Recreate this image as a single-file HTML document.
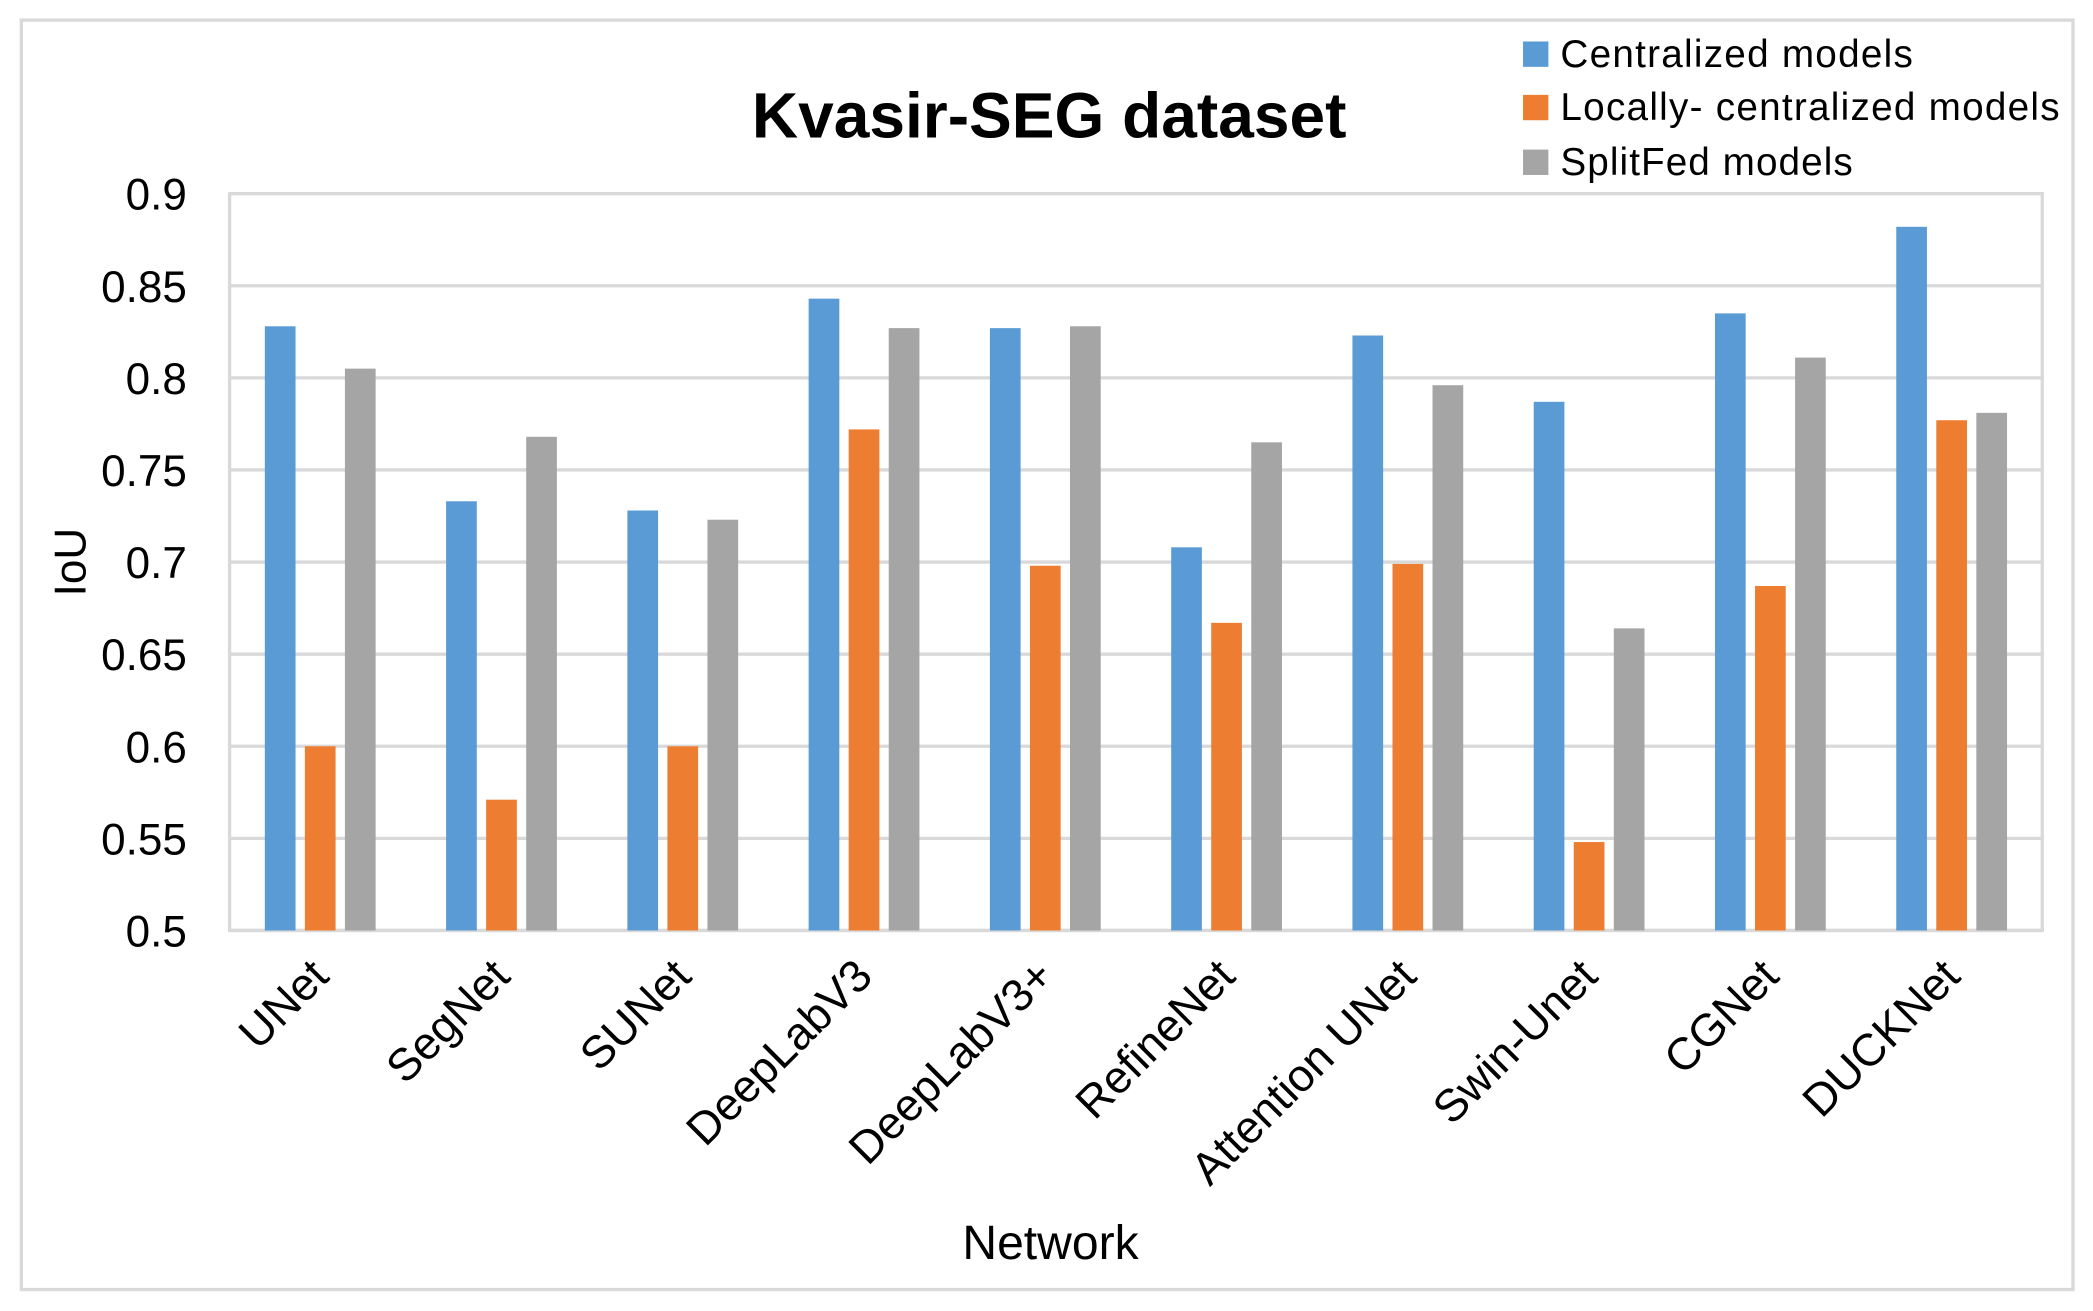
<!DOCTYPE html>
<html><head><meta charset="utf-8"><style>
html,body{margin:0;padding:0;background:#fff;}
svg{display:block;font-family:"Liberation Sans","DejaVu Sans",sans-serif;}
</style></head><body>
<svg id="chart" width="2093" height="1311" viewBox="0 0 1568 982" xmlns="http://www.w3.org/2000/svg">
<rect x="16" y="15" width="1537" height="951" fill="#fff" stroke="#d9d9d9" stroke-width="2.5"/>
<text x="786" y="103" text-anchor="middle" font-size="48" font-weight="bold" fill="#000">Kvasir-SEG dataset</text>
<g id="grid"></g>
<g id="bars"></g>
<g id="yticks"></g>
<g id="xticks"></g>
<text transform="translate(64,421) rotate(-90)" text-anchor="middle" font-size="33" fill="#000">IoU</text>
<text x="787" y="943" text-anchor="middle" font-size="36" fill="#000">Network</text>
<g>
 <g><rect x="1141" y="31" width="19" height="19" fill="#5b9bd5"/><text x="1169" y="50" font-size="29" textLength="264">Centralized models</text></g>
 <g><rect x="1141" y="71" width="19" height="19" fill="#ed7d31"/><text x="1169" y="90" font-size="29" textLength="374">Locally- centralized models</text></g>
 <g><rect x="1141" y="112" width="19" height="19" fill="#a5a5a5"/><text x="1169" y="131" font-size="29" textLength="219">SplitFed models</text></g>
</g>
</svg>
<script>
const categories = ["UNet","SegNet","SUNet","DeepLabV3","DeepLabV3+","RefineNet","Attention UNet","Swin-Unet","CGNet","DUCKNet"];
const centralized = [0.828,0.733,0.728,0.843,0.827,0.708,0.823,0.787,0.835,0.882];
const locallyCentralized = [0.600,0.571,0.600,0.772,0.698,0.667,0.699,0.548,0.687,0.777];
const splitFed = [0.805,0.768,0.723,0.827,0.828,0.765,0.796,0.664,0.811,0.781];
const yTicks = [0.5,0.55,0.6,0.65,0.7,0.75,0.8,0.85,0.9];
const yTickLabels = ["0.5","0.55","0.6","0.65","0.7","0.75","0.8","0.85","0.9"];

const NS = "http://www.w3.org/2000/svg";
const L = 172, R = 1530, T = 145, B = 697, yMin = 0.5, yMax = 0.9;
function yScale(v){ return B - (v - yMin) / (yMax - yMin) * (B - T); }
const bandW = (R - L) / categories.length;
function xCenter(i){ return L + bandW * (i + 0.5); }
function mk(tag, attrs){ const e = document.createElementNS(NS, tag); for (const k in attrs) e.setAttribute(k, attrs[k]); return e; }

const grid = document.getElementById('grid');
yTicks.forEach((t, i) => {
  const ln = mk('line', {x1:L, x2:R, y1:yScale(t), y2:yScale(t), stroke:'#d9d9d9', 'stroke-width':2.5});
  
  
  grid.appendChild(ln);
  const tx = mk('text', {x:140, y:yScale(t) + 12, 'text-anchor':'end', 'font-size':33, fill:'#000'});
  tx.textContent = yTickLabels[i];
  
  
  document.getElementById('yticks').appendChild(tx);
});
const frame = mk('rect', {x:L, y:T, width:R-L, height:B-T, fill:'none', stroke:'#d9d9d9', 'stroke-width':2.5});


grid.appendChild(frame);

const series = [[centralized,'#5b9bd5',-30],[locallyCentralized,'#ed7d31',0],[splitFed,'#a5a5a5',30]];
const bw = 23;
const barsG = document.getElementById('bars');
series.forEach((s, si) => {
  s[0].forEach((v, i) => {
    const y = yScale(v);
    const r = mk('rect', {x:xCenter(i) + s[2] - bw/2, y:y, width:bw, height:B - y, fill:s[1]});
    
    
    barsG.appendChild(r);
  });
});

const xt = document.getElementById('xticks');
categories.forEach((c, i) => {
  const x = xCenter(i) + 8, y = 733;
  const t = mk('text', {x:x, y:y, 'text-anchor':'end', 'font-size':34, fill:'#000', transform:`rotate(-45 ${x} ${y})`});
  t.textContent = c;
  
  
  xt.appendChild(t);
});
</script>
</body></html>
